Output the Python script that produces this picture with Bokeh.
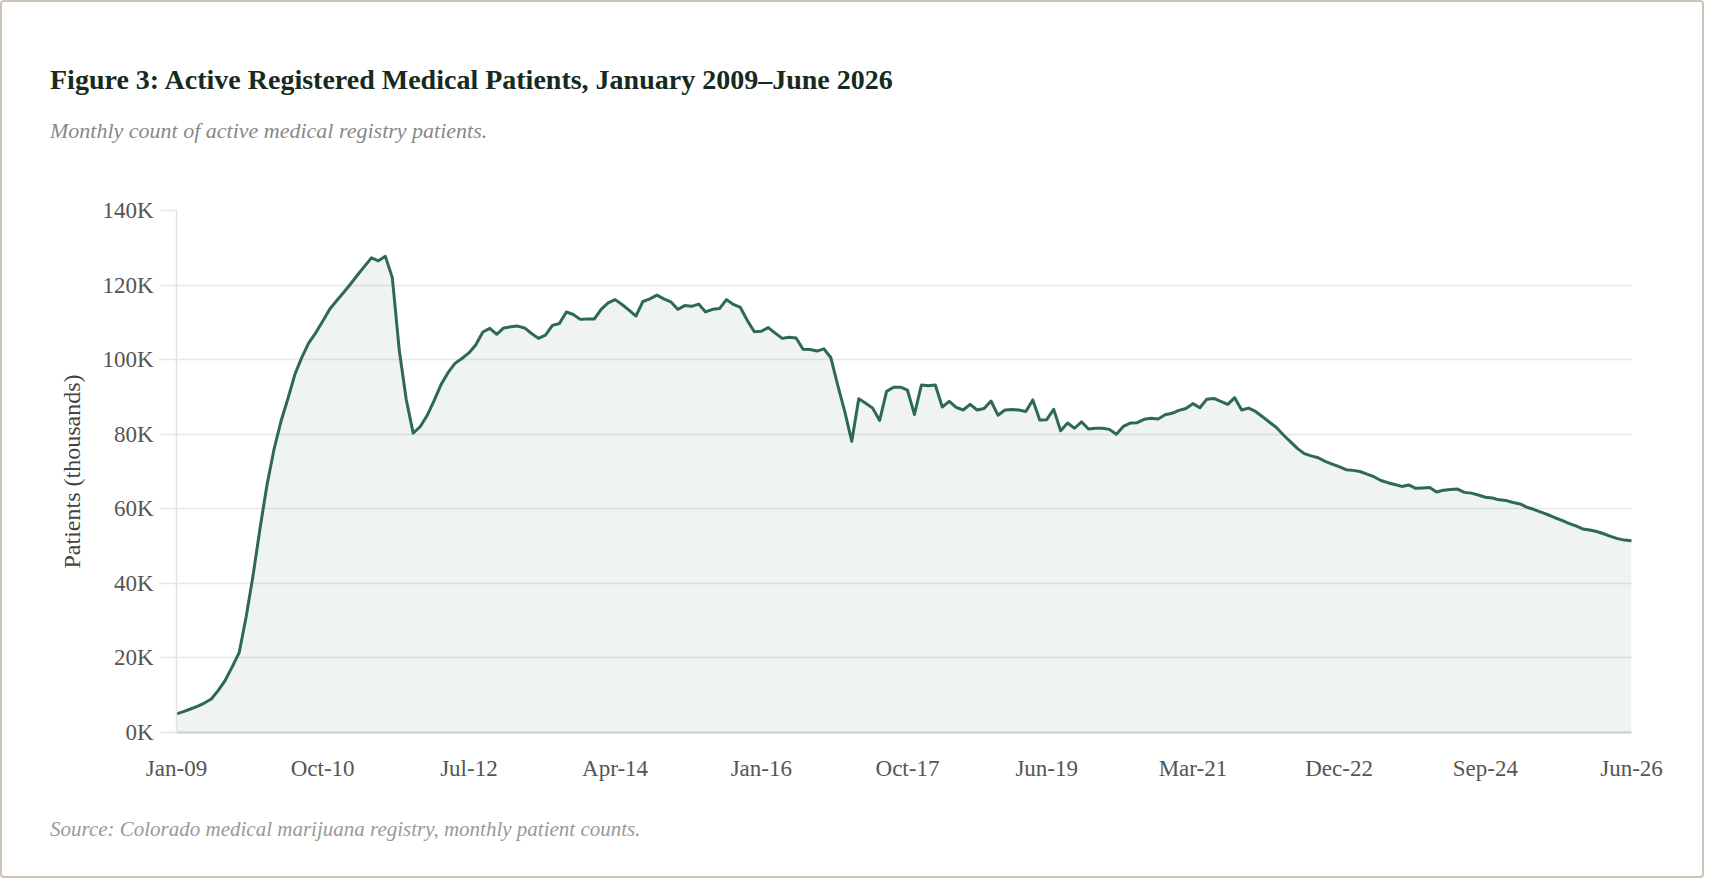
from bokeh.plotting import figure
from bokeh.models import ColumnDataSource, Range1d, FixedTicker, Column, Div
from bokeh.embed import file_html
from bokeh.resources import INLINE

# monthly active patients (thousands), Jan 2009 .. Jun 2026
patients = [
    5.0, 5.6, 6.3, 7.0, 7.9, 9.0, 11.3, 14.0, 17.6, 21.4,
    31.0, 42.2, 54.8, 66.4, 75.9, 83.4, 89.5, 96.0, 100.6, 104.5,
    107.2, 110.3, 113.5, 115.8, 118.0, 120.3, 122.7, 125.0, 127.3, 126.5,
    127.7, 122.0, 102.5, 89.3, 80.3, 82.0, 85.0, 89.0, 93.3, 96.5,
    99.0, 100.3, 101.8, 104.0, 107.4, 108.4, 106.8, 108.5, 108.8, 109.0,
    108.5, 107.0, 105.7, 106.6, 109.2, 109.7, 112.8, 112.1, 110.8, 110.9,
    110.9, 113.5, 115.2, 116.1, 114.8, 113.3, 111.7, 115.6, 116.3, 117.3,
    116.3, 115.5, 113.5, 114.5, 114.3, 114.9, 112.8, 113.5, 113.7, 116.1,
    114.8, 114.0, 110.5, 107.5, 107.6, 108.6, 107.1, 105.7, 106.0, 105.8,
    102.8, 102.7, 102.3, 102.9, 100.5, 93.0, 86.0, 78.1, 89.5, 88.3,
    87.0, 83.7, 91.5, 92.6, 92.6, 91.8, 85.3, 93.2, 93.0, 93.2,
    87.3, 88.8, 87.2, 86.5, 88.0, 86.5, 86.9, 88.9, 85.1, 86.5,
    86.6, 86.5, 86.1, 89.2, 83.8, 83.9, 86.7, 80.9, 83.0, 81.6,
    83.3, 81.4, 81.6, 81.6, 81.3, 80.0, 82.1, 83.0, 83.1, 84.0,
    84.3, 84.1, 85.2, 85.6, 86.4, 86.9, 88.2, 87.1, 89.4, 89.6,
    88.8, 88.0, 89.8, 86.5, 87.0, 86.1, 84.7, 83.2, 81.8, 79.8,
    78.0, 76.2, 74.8, 74.2, 73.7, 72.7, 72.0, 71.3, 70.5, 70.3,
    70.0, 69.3, 68.6, 67.6, 67.0, 66.5, 66.0, 66.4, 65.5, 65.6,
    65.7, 64.5, 65.0, 65.2, 65.3, 64.4, 64.2, 63.7, 63.1, 62.9,
    62.4, 62.2, 61.7, 61.3, 60.4, 59.8, 59.1, 58.4, 57.6, 56.9,
    56.1, 55.4, 54.6, 54.3, 53.9, 53.3, 52.6, 52.0, 51.6, 51.4,
]
month_index = list(range(len(patients)))

x_tick_pos = [0, 21, 42, 63, 84, 105, 125, 146, 167, 188, 209]
x_tick_labels = ["Jan-09", "Oct-10", "Jul-12", "Apr-14", "Jan-16", "Oct-17",
                 "Jun-19", "Mar-21", "Dec-22", "Sep-24", "Jun-26"]
y_tick_pos = [0, 20, 40, 60, 80, 100, 120, 140]
y_tick_labels = ["0K", "20K", "40K", "60K", "80K", "100K", "120K", "140K"]

title_text = "Figure 3: Active Registered Medical Patients, January 2009\u2013June 2026"
subtitle_text = "Monthly count of active medical registry patients."
source_text = "Source: Colorado medical marijuana registry, monthly patient counts."

FONT = "Liberation Serif"
GREEN = "#2d6a4f"
W = 1700
HEAD_H, PLOT_H, FOOT_H = 150, 648, 76


def text_block(top, size, style, color, text):
    return (
        '<div style="position:absolute;left:48px;top:%spx;white-space:nowrap;'
        "font-family:'Liberation Serif';font-size:%dpx;%s"
        'line-height:1;color:%s;">%s</div>' % (top, size, style, color, text)
    )


header = Div(
    width=W, height=HEAD_H, margin=0,
    text=(
        '<div style="position:relative;height:%dpx;width:%dpx;">' % (HEAD_H, W)
        + text_block(63.5, 28, "font-weight:bold;", "#172a20", title_text)
        + text_block(118, 22, "font-style:italic;", "#888888", subtitle_text)
        + "</div>"
    ),
)

footer = Div(
    width=W, height=FOOT_H, margin=0,
    text=(
        '<div style="position:relative;height:%dpx;width:%dpx;">' % (FOOT_H, W)
        + text_block(18.5, 21, "font-style:italic;", "#999999", source_text)
        + "</div>"
    ),
)

source = ColumnDataSource(dict(x=month_index, y=patients, base=[0] * len(patients)))

p = figure(
    width=W, height=PLOT_H,
    x_range=Range1d(0, len(patients) - 1),
    y_range=Range1d(0, 140),
    output_backend="svg",
    toolbar_location=None,
    min_border_left=174, min_border_right=71,
    min_border_top=58, min_border_bottom=68,
)
p.margin = 0
p.outline_line_color = None
p.background_fill_color = "white"
p.border_fill_color = "white"

p.varea(x="x", y1="base", y2="y", source=source, fill_color=GREEN, fill_alpha=0.08)
p.line(x="x", y="y", source=source, line_color=GREEN, line_width=3,
       line_join="round", line_cap="round")

# axes
p.xaxis.ticker = FixedTicker(ticks=x_tick_pos)
p.xaxis.major_label_overrides = dict(zip(x_tick_pos, x_tick_labels))
p.yaxis.ticker = FixedTicker(ticks=y_tick_pos)
p.yaxis.major_label_overrides = dict(zip(y_tick_pos, y_tick_labels))

for ax in (p.xaxis[0], p.yaxis[0]):
    ax.major_label_text_font = FONT
    ax.major_label_text_font_size = "23px"
    ax.major_label_text_color = "#555555"
    ax.minor_tick_line_color = None
    ax.major_tick_in = 0

p.xaxis.axis_line_color = "#d4d4d4"
p.xaxis.axis_line_width = 2.5
p.xaxis.major_tick_out = 0
p.xaxis.major_label_standoff = 23

p.yaxis.axis_line_color = "#e2e2e2"
p.yaxis.axis_line_width = 1.5
p.yaxis.major_tick_out = 17
p.yaxis.major_tick_line_color = "#e6e6e6"
p.yaxis.major_tick_line_width = 1.5
p.yaxis.major_label_standoff = 6
p.yaxis.axis_label = "Patients (thousands)"
p.yaxis.axis_label_text_font = FONT
p.yaxis.axis_label_text_font_size = "24px"
p.yaxis.axis_label_text_font_style = "normal"
p.yaxis.axis_label_text_color = "#444444"
p.yaxis.axis_label_standoff = 14

p.xgrid.grid_line_color = None
p.ygrid.grid_line_color = "#e8e8e8"
p.ygrid.grid_line_width = 1.5

page = Column(header, p, footer, spacing=0,
              styles={"border": "2px solid #cdc4b6", "border-radius": "4px",
                      "background-color": "white"})

open("out.html", "w").write(file_html(page, INLINE))
